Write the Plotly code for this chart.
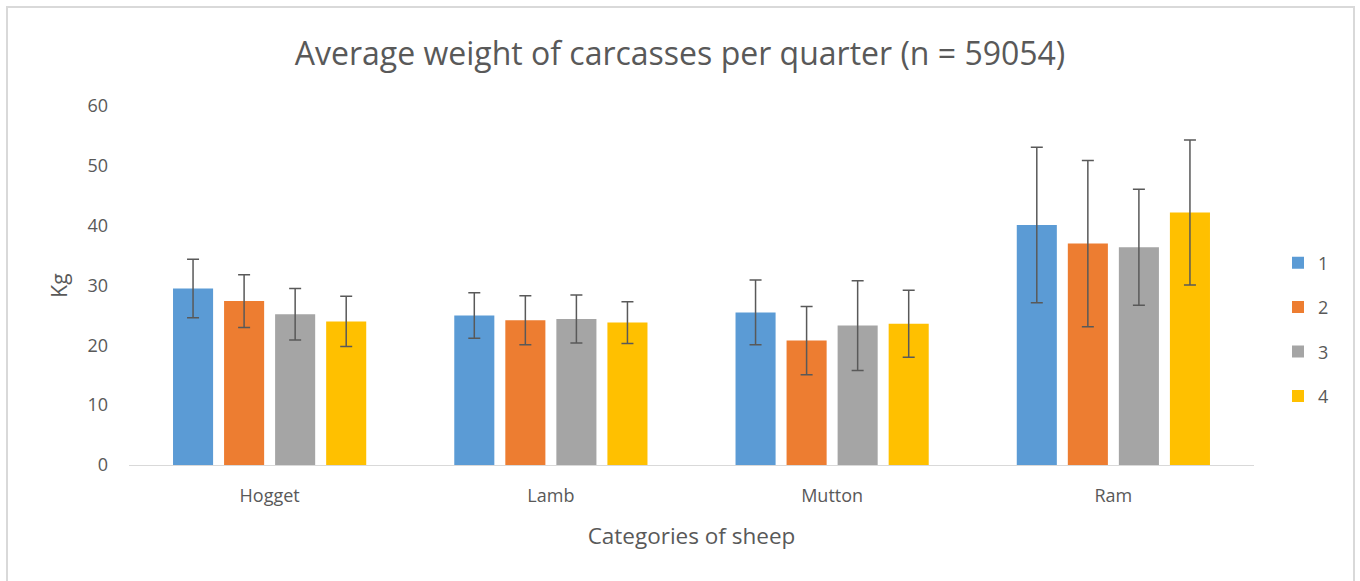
import plotly.graph_objects as go

categories = ["Hogget", "Lamb", "Mutton", "Ram"]
quarters = ["1", "2", "3", "4"]
colors = ["#5B9BD5", "#ED7D31", "#A5A5A5", "#FFC000"]

q1_mean = [29.5, 25.0, 25.5, 40.1]
q2_mean = [27.4, 24.2, 20.8, 37.0]
q3_mean = [25.2, 24.4, 23.3, 36.4]
q4_mean = [24.0, 23.8, 23.6, 42.2]

q1_err = [4.9, 3.8, 5.4, 13.0]
q2_err = [4.4, 4.1, 5.7, 13.9]
q3_err = [4.3, 4.0, 7.5, 9.7]
q4_err = [4.2, 3.5, 5.6, 12.1]

means = [q1_mean, q2_mean, q3_mean, q4_mean]
errs = [q1_err, q2_err, q3_err, q4_err]

FONT = "Open Sans"
TXT = "#595959"

fig = go.Figure()
for name, m, e, c in zip(quarters, means, errs, colors):
    fig.add_trace(go.Bar(
        x=categories, y=m, name=name, legendgroup=name,
        marker=dict(color=c, line=dict(width=0)),
        error_y=dict(type="data", array=e, visible=True,
                     color="#595959", thickness=1.5, width=6),
    ))

W, H = 1360, 581
ml, mr, mt, mb = 129, 106, 106, 116
pw, ph = W - ml - mr, H - mt - mb

fig.update_layout(
    width=W, height=H,
    margin=dict(l=ml, r=mr, t=mt, b=mb),
    paper_bgcolor="white", plot_bgcolor="white",
    barmode="group", bargap=0.274, bargroupgap=0.215,
    title=dict(text="Average weight of carcasses per quarter (n = 59054)",
               x=0.5, xref="container", xanchor="center", y=1 - 54 / H, yanchor="middle",
               font=dict(family=FONT, size=32, color=TXT)),
    font=dict(family=FONT, color=TXT),
    legend=dict(x=1 + 24 / pw, xanchor="left", y=(465 - 329.5) / ph, yanchor="middle",
                font=dict(size=18, color=TXT), tracegroupgap=18,
                itemwidth=30),
    xaxis=dict(showgrid=False, showline=True, linecolor="#D9D9D9", linewidth=1,
               ticks="", tickfont=dict(size=18, color=TXT), ticklabelstandoff=14,
               title=dict(text="Categories of sheep", font=dict(size=22.5, color=TXT),
                          standoff=22)),
    yaxis=dict(range=[0, 60], dtick=10, showgrid=False, showline=False, zeroline=False,
               ticks="", tickfont=dict(size=18, color=TXT), ticklabelstandoff=20,
               title=dict(text="Kg", font=dict(size=21, color=TXT), standoff=14)),
    shapes=[dict(type="rect", xref="paper", yref="paper",
                 x0=-(ml - 7) / pw, x1=1 + (mr - 6) / pw,
                 y0=-(mb + 10) / ph, y1=1 + (mt - 7) / ph,
                 line=dict(color="#D9D9D9", width=2), fillcolor="rgba(0,0,0,0)",
                 layer="below")],
)

fig.write_html("out.html", config={"displayModeBar": False},
               post_script="document.body.style.margin='0';document.body.style.overflow='hidden';")
